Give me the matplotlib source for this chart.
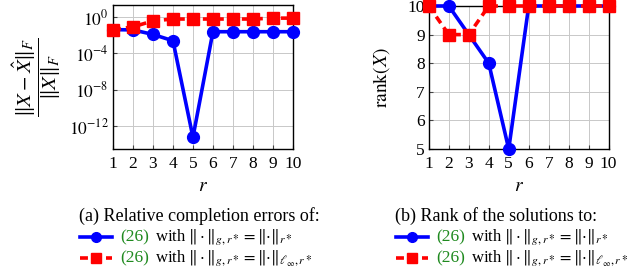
import numpy as np
import matplotlib
matplotlib.use("Agg")
import matplotlib.pyplot as plt
from matplotlib.lines import Line2D

plt.rcParams['font.family'] = ['Liberation Serif', 'DejaVu Serif']
plt.rcParams['mathtext.fontset'] = 'stix'

# data
r = [1, 2, 3, 4, 5, 6, 7, 8, 9, 10]
err_nuclear_log = [-1.37, -1.4, -1.9, -2.6, -13.25, -1.6, -1.6, -1.6, -1.6, -1.6]
err_linf_log = [-1.37, -1.07, -0.4, -0.2, -0.2, -0.2, -0.2, -0.2, -0.1, -0.1]
rank_nuclear = [10, 10, 9, 8, 5, 10, 10, 10, 10, 10]
rank_linf = [10, 9, 9, 10, 10, 10, 10, 10, 10, 10]
ytick_err = [1e0, 1e-4, 1e-8, 1e-12]

err_nuclear = 10.0 ** np.array(err_nuclear_log)
err_linf = 10.0 ** np.array(err_linf_log)

blue = '#0000ff'
red = '#ff0000'
green = '#1f8a1f'

fig = plt.figure(figsize=(6.4, 2.72), dpi=100)
ax1 = fig.add_axes([0.1766, 0.452, 0.281, 0.529])
ax2 = fig.add_axes([0.670, 0.452, 0.281, 0.526])

blue_kw = dict(color=blue, lw=2.6, marker='o', ms=8.5, clip_on=False, zorder=4)
red_kw = dict(color=red, lw=2.6, ls=(0, (2.2, 1.4)), marker='s', ms=8.5, clip_on=False, zorder=5)

ax1.semilogy(r, err_nuclear, **blue_kw)
ax1.semilogy(r, err_linf, **red_kw)
ax1.set_ylim(10 ** -14.55, 10 ** 1.33)
ax1.set_yticks(ytick_err)
ax1.set_yticklabels([r'$10^{0}$', r'$10^{-4}$', r'$10^{-8}$', r'$10^{-12}$'])
ax1.yaxis.set_minor_locator(matplotlib.ticker.NullLocator())

ax2.plot(r, rank_nuclear, **blue_kw)
ax2.plot(r, rank_linf, **red_kw)
ax2.set_ylim(5, 10)
ax2.set_yticks([5, 6, 7, 8, 9, 10])

for ax in (ax1, ax2):
    ax.set_xlim(1, 10)
    ax.set_xticks(r)
    ax.grid(True, color='#c8c8c8', lw=0.7)
    ax.set_axisbelow(True)
    ax.tick_params(direction='in', length=3, labelsize=12.5, pad=3, color='#444444')
    ax.tick_params(axis='x', pad=5)
    for s in ax.spines.values():
        s.set_linewidth(1.0)
    ax.set_xlabel(r'$r$', fontsize=14, labelpad=4)

ax1.set_ylabel(r'$\dfrac{\|X-\hat{X}\|_F}{\|X\|_F}$', fontsize=15, labelpad=4)
ax2.set_ylabel(r'$\mathrm{rank}(X)$', fontsize=14, labelpad=11)

# captions and legends below each panel
captions = ['(a) Relative completion errors of:', '(b) Rank of the solutions to:']
leg1 = r'with $\|\cdot\|_{g,r*}=\|{\cdot}\|_{r*}$'
leg2 = r'with $\|\cdot\|_{g,r*}=\|{\cdot}\|_{\ell_\infty,r*}$'
fig.canvas.draw()
renderer = fig.canvas.get_renderer()
for x0, cap in zip([79, 395], captions):
    fig.text(x0 / 640, 1 - 216 / 272, cap, fontsize=13, va='center', ha='left')
    for yy, txt, col, kw in [(237, leg1, blue, dict(marker='o', ls='-')),
                             (258, leg2, red, dict(marker='s', ls=(0, (2.2, 1.4))))]:
        yf = 1 - yy / 272
        fig.add_artist(Line2D([(x0 + 1) / 640, (x0 + 33) / 640], [yf, yf], color=col, lw=2.6,
                              ls=kw['ls'], transform=fig.transFigure))
        fig.add_artist(Line2D([(x0 + 17) / 640], [yf], color=col, marker=kw['marker'], ms=7,
                              transform=fig.transFigure))
        t = fig.text((x0 + 41) / 640, yf, '(26)', color=green, fontsize=12.5, va='center', ha='left')
        bb = t.get_window_extent(renderer)
        fig.text((bb.x1 + 6) / 640, yf, txt, fontsize=12, va='center', ha='left')

fig.savefig('out.png', dpi=100)
